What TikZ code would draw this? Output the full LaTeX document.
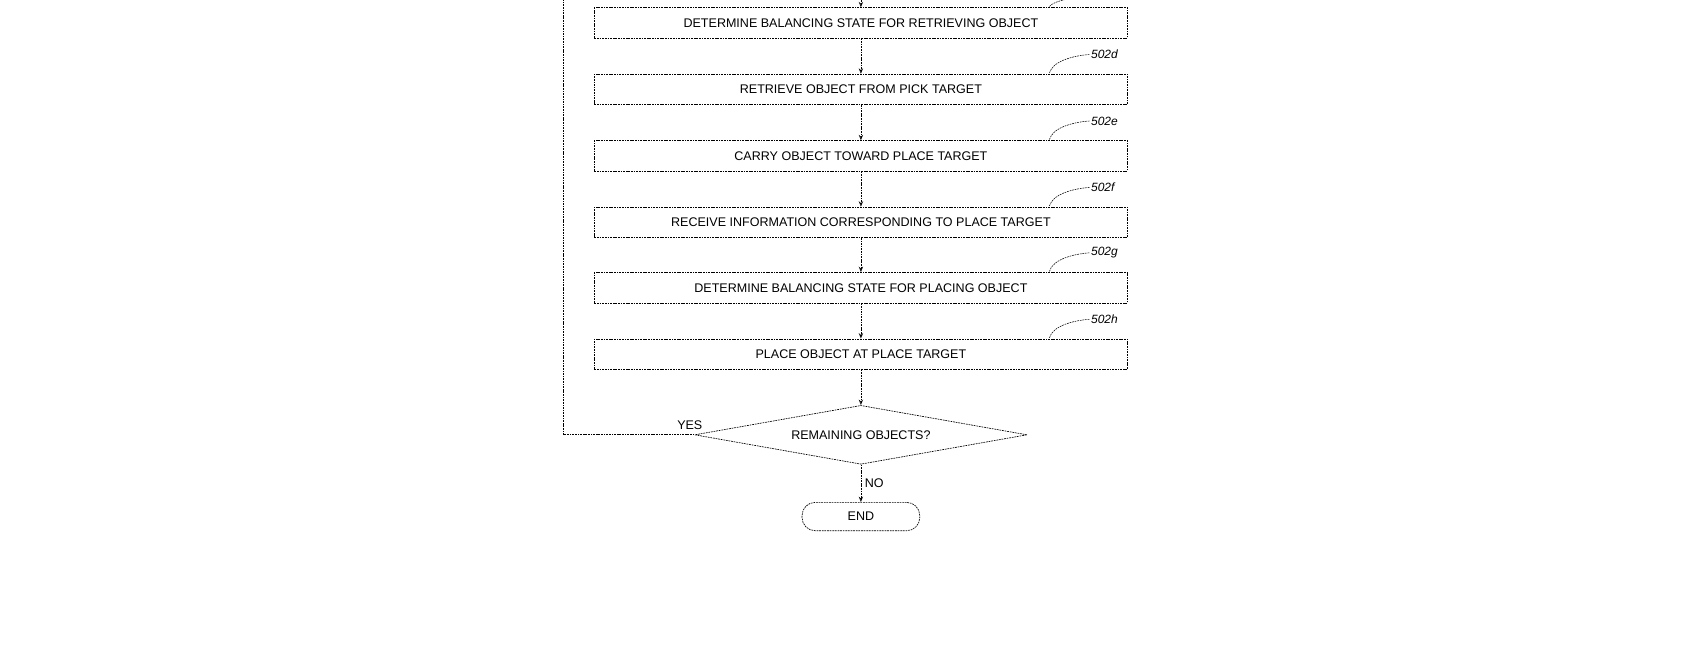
\documentclass[tikz,border=0pt]{standalone}
\usepackage{fontspec}
\setmainfont{Liberation Sans}
\usetikzlibrary{arrows.meta, shapes.geometric}

\begin{document}
\begin{tikzpicture}[
x=1pt, y=-1pt,
line width=0.6pt,
dashed line/.style={dash pattern=on 1.6pt off 0.8pt},
stepbox/.style={
rectangle,
draw, dashed line,
minimum width=489pt,
minimum height=28pt,
inner sep=0 pt,
font=\fontsize{11.5}{13}\selectfont,
},
flow/.style={dashed line, -{Stealth[length=5pt, width=4pt, open]}},
refline/.style={dashed line, line width=0.5pt},
reflabel/.style={font=\itshape\fontsize{11}{13}\selectfont, anchor=west, inner sep=1pt},
]
\useasboundingbox (0,0) rectangle (1560,597);

% process steps
\node [stepbox] at (790,21) (balpick) {DETERMINE BALANCING STATE FOR RETRIEVING OBJECT};
\node [stepbox] at (790,82) (retrieve) {RETRIEVE OBJECT FROM PICK TARGET};
\node [stepbox] at (790,143) (carry) {CARRY OBJECT TOWARD PLACE TARGET};
\node [stepbox] at (790,204) (receive) {RECEIVE INFORMATION CORRESPONDING TO PLACE TARGET};
\node [stepbox] at (790,264) (balplace) {DETERMINE BALANCING STATE FOR PLACING OBJECT};
\node [stepbox] at (790,325) (place) {PLACE OBJECT AT PLACE TARGET};

\node [diamond, draw, dashed line, aspect=5.6, minimum width=305pt, minimum height=54pt,
inner sep=0pt, font=\fontsize{11.5}{13}\selectfont] at (790,399) (remain) {REMAINING OBJECTS?};
\node [rectangle, rounded corners=12pt, draw, dashed line, minimum width=108pt,
minimum height=26pt, font=\fontsize{11.5}{13}\selectfont] at (790,474) (stop) {END};

% arrows
\coordinate (top) at (790,-2);
\draw [flow] (top) -- (balpick);
\draw [flow] (balpick) -- (retrieve);
\draw [flow] (retrieve) -- (carry);
\draw [flow] (carry) -- (receive);
\draw [flow] (receive) -- (balplace);
\draw [flow] (balplace) -- (place);
\draw [flow] (place) -- (remain);
\draw [flow] (remain) -- node[anchor=west, font=\fontsize{11.5}{13}\selectfont] {NO} (stop);

% loop back
\coordinate (loop) at (517,-2);
\draw [dashed line] (remain.west) -| (loop);
\node [font=\fontsize{11.5}{13}\selectfont, anchor=south] at (633,398) (yes) {YES};

% reference numerals
\draw [refline] (963,6) .. controls (968,0) and (985,-2) .. (1000,-4);
\foreach \n/\y/\l in {retrieve/68/d, carry/129/e, receive/190/f, balplace/250/g, place/311/h}
{
\draw [refline] (963,\y-1) .. controls (966,\y-12) and (985,\y-17) .. (1000,\y-18)
node [reflabel] {502\l};
}

\end{tikzpicture}
\end{document}
